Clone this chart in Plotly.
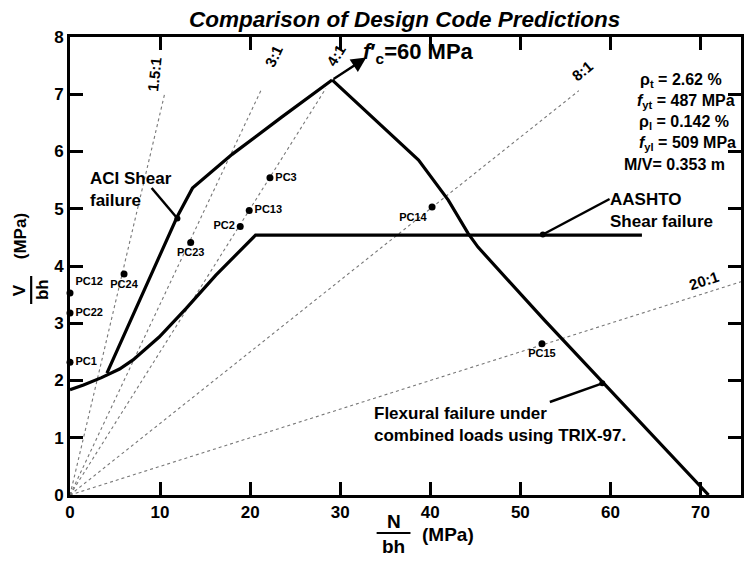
import plotly.graph_objects as go

# ---------------- data ----------------
# AASHTO shear failure envelope (N/bh, V/bh) in MPa
aashto_N = [0.0, 1.5, 3.5, 5.5, 7.0, 9.9, 12.9, 16.2, 20.6, 63.5]
aashto_V = [1.84, 1.92, 2.05, 2.2, 2.36, 2.76, 3.26, 3.84, 4.54, 4.54]

# ACI shear failure envelope
aci_N = [4.1, 10.3, 11.9, 13.6, 18.0, 23.5, 29.1]
aci_V = [2.13, 4.28, 4.86, 5.36, 5.95, 6.6, 7.25]

# Flexural failure under combined loads (TRIX-97)
flex_N = [29.1, 33.4, 38.7, 42.0, 44.2, 45.3, 52.7, 70.9]
flex_V = [7.25, 6.62, 5.85, 5.15, 4.57, 4.33, 3.05, 0.0]

# Test specimens
pc_names = ["PC1", "PC22", "PC12", "PC24", "PC23", "PC2", "PC13", "PC3", "PC14", "PC15"]
pc_N = [0.0, 0.0, 0.0, 6.0, 13.4, 18.9, 19.9, 22.2, 40.2, 52.4]
pc_V = [2.32, 3.18, 3.53, 3.86, 4.41, 4.69, 4.97, 5.54, 5.03, 2.64]
pc_textpos = ["middle right", "middle right", "top right", "bottom center", "bottom center",
              "middle left", "middle right", "middle right", "bottom left", "bottom center"]

# Constant N:V ratio rays
ray_labels = ["1.5:1", "3:1", "4:1", "8:1", "20:1"]
ray_ratio = [1.5, 3.0, 4.0, 8.0, 20.0]
ray_end_N = [10.5, 21.2, 28.4, 56.5, 74.5]
ray_label_N = [9.4, 22.6, 29.5, 56.9, 70.4]
ray_label_V = [7.34, 7.66, 7.68, 7.42, 3.74]
ray_label_angle = [-84, -65, -58, -40, -18]

x_ticks = [0, 10, 20, 30, 40, 50, 60, 70]
y_ticks = [0, 1, 2, 3, 4, 5, 6, 7, 8]

params = ["ρ<sub>t</sub> = 2.62 %", "<i>f</i><sub>yt</sub> = 487 MPa", "ρ<sub>l</sub> = 0.142 %",
          "<i>f</i><sub>yl</sub> = 509 MPa", "M/V= 0.353 m"]

# ---------------- layout geometry (pixels) ----------------
W, H = 744, 562
L, R, T, B = 70, 0, 37, 67
PW, PH = W - L - R, H - T - B
XR = [0, 74.5]
YR = [0, 8]


def px(xp):  # pixel -> data x
    return XR[0] + (xp - L) / PW * (XR[1] - XR[0])


def py(yp):  # pixel -> data y
    return YR[0] + (T + PH - yp) / PH * (YR[1] - YR[0])


def ppx(xp):  # pixel -> paper x
    return (xp - L) / PW


def ppy(yp):  # pixel -> paper y
    return (T + PH - yp) / PH


FONT = "Liberation Sans, Arial, sans-serif"
fig = go.Figure()

# rays
for r, ne in zip(ray_ratio, ray_end_N):
    fig.add_trace(go.Scatter(x=[0, ne], y=[0, ne / r], mode="lines",
                             line=dict(color="#777777", width=1.1, dash="dot"),
                             hoverinfo="skip", showlegend=False))

thick = dict(color="black", width=3.2)
fig.add_trace(go.Scatter(x=aashto_N, y=aashto_V, mode="lines", line=thick, showlegend=False))
fig.add_trace(go.Scatter(x=aci_N, y=aci_V, mode="lines", line=thick, showlegend=False))
fig.add_trace(go.Scatter(x=flex_N, y=flex_V, mode="lines", line=thick, showlegend=False))

# specimens
fig.add_trace(go.Scatter(x=pc_N, y=pc_V, mode="markers+text", text=pc_names,
                         textposition=pc_textpos, cliponaxis=False,
                         marker=dict(color="black", size=7),
                         textfont=dict(family=FONT, size=11, color="black", weight="bold"),
                         showlegend=False))

ann = []
# ray labels
for t, xn, yv, a in zip(ray_labels, ray_label_N, ray_label_V, ray_label_angle):
    ann.append(dict(x=xn, y=yv, xref="x", yref="y", text=t, showarrow=False, textangle=a,
                    xanchor="center", yanchor="middle",
                    font=dict(family=FONT, size=15, color="black", weight="bold")))

# leader lines for curve labels: (tail pixel) -> (point on curve)
leaders = [((152, 188), (11.93, 4.83)), ((612, 199), (52.5, 4.55)), ((552, 402), (59.1, 1.95))]
for (tx, ty), (hx, hy) in leaders:
    fig.add_trace(go.Scatter(x=[px(tx), hx], y=[py(ty), hy], mode="lines",
                             line=dict(color="black", width=2.5), showlegend=False, cliponaxis=False))
    fig.add_trace(go.Scatter(x=[hx], y=[hy], mode="markers", marker=dict(color="black", size=6),
                             showlegend=False))

lab_font = dict(family=FONT, size=17, color="black", weight="bold")
ann.append(dict(x=ppx(88), y=ppy(189), xref="paper", yref="paper", xanchor="left", yanchor="middle",
                align="left", text="ACI Shear<br>failure", showarrow=False, font=lab_font))
ann.append(dict(x=ppx(610), y=ppy(210), xref="paper", yref="paper", xanchor="left", yanchor="middle",
                align="left", text="AASHTO<br>Shear failure", showarrow=False, font=lab_font))
ann.append(dict(x=ppx(373), y=ppy(424), xref="paper", yref="paper", xanchor="left", yanchor="middle",
                align="left", text="Flexural failure under<br>combined loads using TRIX-97.",
                showarrow=False, font=lab_font))

# f'c arrow
ann.append(dict(x=32.9, y=7.64, ax=29.1, ay=7.25, xref="x", yref="y", axref="x", ayref="y",
                text="", showarrow=True, arrowhead=2, arrowsize=1.2, arrowwidth=2.5, arrowcolor="black"))
ann.append(dict(x=ppx(362), y=ppy(53), xref="paper", yref="paper", xanchor="left", yanchor="middle",
                text="<i>f</i>′<sub>c</sub>=60 MPa", showarrow=False,
                font=dict(family=FONT, size=22, color="black", weight="bold")))

# parameter block
param_x = [641, 638, 640, 640, 624]
param_y = [80, 101, 122, 143, 164]
for t, xx, yy in zip(params, param_x, param_y):
    ann.append(dict(x=ppx(xx), y=ppy(yy), xref="paper", yref="paper", xanchor="left", yanchor="middle",
                    text=t, showarrow=False, font=dict(family=FONT, size=16, color="black", weight="bold")))

# title
ann.append(dict(x=ppx(406), y=ppy(19), xref="paper", yref="paper",
                text="<i>Comparison of Design Code Predictions</i>",
                showarrow=False, font=dict(family=FONT, size=22.5, color="black", weight="bold"),
                xanchor="center", yanchor="middle"))

# axis labels
axf = dict(family=FONT, size=19, color="black", weight="bold")
ayf = dict(family=FONT, size=17, color="black", weight="bold")
ann.append(dict(x=ppx(395), y=ppy(521), xref="paper", yref="paper", text="N", showarrow=False,
                xanchor="center", yanchor="middle", font=axf))
ann.append(dict(x=ppx(395), y=ppy(546), xref="paper", yref="paper", text="bh", showarrow=False,
                xanchor="center", yanchor="middle", font=axf))
ann.append(dict(x=ppx(450), y=ppy(534), xref="paper", yref="paper", text="(MPa)", showarrow=False,
                xanchor="center", yanchor="middle", font=axf))
ann.append(dict(x=ppx(19), y=ppy(290), xref="paper", yref="paper", text="V", textangle=-90,
                xanchor="center", yanchor="middle", showarrow=False, font=ayf))
ann.append(dict(x=ppx(42), y=ppy(290), xref="paper", yref="paper", text="bh", textangle=-90,
                xanchor="center", yanchor="middle", showarrow=False, font=ayf))
ann.append(dict(x=ppx(21), y=ppy(236), xref="paper", yref="paper", text="(MPa)", textangle=-90,
                xanchor="center", yanchor="middle", showarrow=False, font=ayf))

shapes = [
    dict(type="line", xref="paper", yref="paper", x0=ppx(378), x1=ppx(412), y0=ppy(533), y1=ppy(533),
         line=dict(color="black", width=2.2)),
    dict(type="line", xref="paper", yref="paper", x0=ppx(31), x1=ppx(31), y0=ppy(276), y1=ppy(304),
         line=dict(color="black", width=2.2)),
]

axis_common = dict(showline=True, linecolor="black", linewidth=3, mirror="ticks", ticks="inside",
                   ticklen=13, tickwidth=2.5, tickcolor="black", showgrid=False, zeroline=False,
                   tickfont=dict(family=FONT, size=17, color="black", weight="bold"))
fig.update_layout(
    width=W, height=H, autosize=False,
    margin=dict(l=L, r=R, t=T, b=B),
    paper_bgcolor="white", plot_bgcolor="white",
    xaxis=dict(range=XR, tickvals=x_ticks, **axis_common),
    yaxis=dict(range=YR, tickvals=y_ticks, **axis_common),
    annotations=ann, shapes=shapes, showlegend=False,
)
fig.write_html("out.html")
